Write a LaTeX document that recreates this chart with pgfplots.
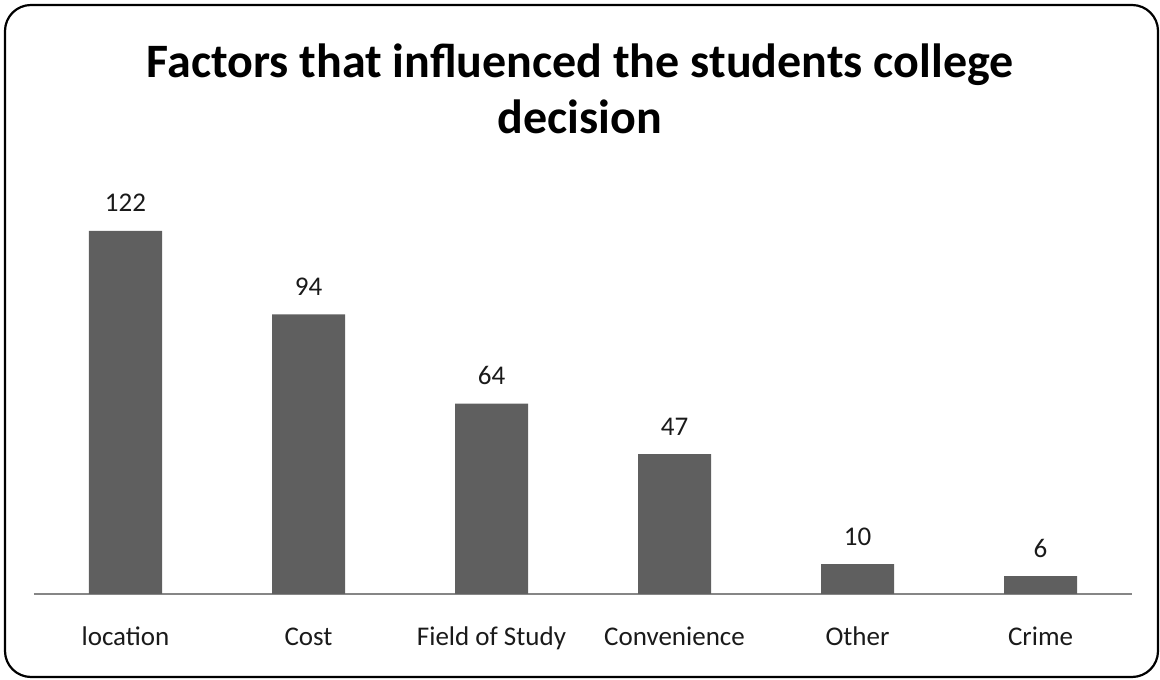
\documentclass[border=0pt]{standalone}
\usepackage{pgfplots}
\pgfplotsset{compat=1.18}
\usepackage{fontspec}
\setmainfont{Carlito}
\definecolor{barc}{HTML}{5F5F5F}
\definecolor{axc}{HTML}{868686}
\definecolor{txt}{HTML}{1A1A1A}
\begin{document}
\begin{tikzpicture}
\useasboundingbox (-17pt,-42.5pt) rectangle (563pt,297pt);
\draw[line width=1.1pt, rounded corners=13pt] (-14.5pt,-41.5pt) rectangle (562pt,294.5pt);
\node[font=\fontsize{24}{28}\selectfont\bfseries, align=center] at (273pt,252.5pt) {Factors that influenced the students college\\decision};
\begin{axis}[
  at={(0pt,0pt)}, anchor=south west,
  scale only axis, width=549pt, height=208.3pt,
  xmin=-0.5, xmax=5.5, ymin=0, ymax=140,
  axis x line*=bottom, hide y axis,
  x axis line style={-, draw=axc, line width=0.8pt},
  major tick length=0pt,
  xtick={0,1,2,3,4,5},
  xticklabels={location,Cost,Field of Study,Convenience,Other,Crime},
  xticklabel style={font=\fontsize{13.5}{16}\selectfont, anchor=base, inner sep=0pt, yshift=-26pt, text=txt},
  ybar, bar width=36.5pt,
  nodes near coords,
  /pgf/number format/assume math mode=true,
  every node near coord/.append style={font=\fontsize{13.5}{16}\selectfont, anchor=base, inner sep=0pt, yshift=9.5pt, text=txt},
  clip=false,
]
\addplot[fill=barc, draw=none] coordinates {(0,122) (1,94) (2,64) (3,47) (4,10) (5,6)};
\end{axis}
\end{tikzpicture}
\end{document}
